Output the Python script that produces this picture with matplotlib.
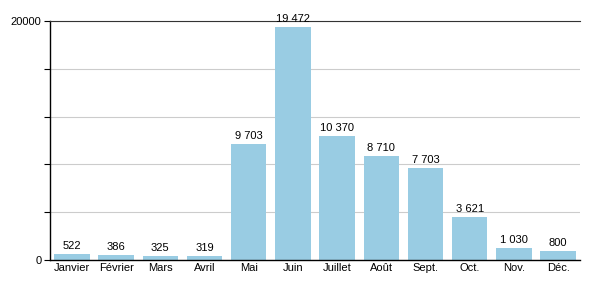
import matplotlib
matplotlib.use("Agg")
import matplotlib.pyplot as plt

plt.rcParams['font.family'] = ['Liberation Sans', 'DejaVu Sans']

# Data
months = ['Janvier', 'Février', 'Mars', 'Avril', 'Mai', 'Juin',
          'Juillet', 'Août', 'Sept.', 'Oct.', 'Nov.', 'Déc.']
values = [522, 386, 325, 319, 9703, 19472, 10370, 8710, 7703, 3621, 1030, 800]

fig, ax = plt.subplots(figsize=(6, 3), dpi=100)
fig.subplots_adjust(left=0.083, right=0.967, top=0.93, bottom=0.133)

x = range(len(months))
bars = ax.bar(x, values, width=0.8, color='#99cce3', zorder=2)

# value labels with space as thousands separator
for xi, v in zip(x, values):
    label = f"{v:,}".replace(',', ' ')
    ax.text(xi, v + 250, label, ha='center', va='bottom', fontsize=8, zorder=3)

ax.set_xlim(-0.5, len(months) - 0.5)
ax.set_ylim(0, 20000)
ax.set_xticks(list(x))
ax.set_xticklabels(months, fontsize=8)
ax.tick_params(axis='x', length=0, pad=2)

ax.set_yticks([0, 4000, 8000, 12000, 16000, 20000])
ax.set_yticklabels(['0', '', '', '', '', '20000'], fontsize=8)
ax.tick_params(axis='y', length=4, width=0.8, pad=2)

ax.yaxis.grid(True, color='#cccccc', linewidth=0.8, zorder=0)
ax.spines['right'].set_visible(False)
ax.spines['top'].set_color('#333333')
ax.spines['top'].set_linewidth(0.8)
ax.spines['left'].set_linewidth(1)
ax.spines['bottom'].set_linewidth(1)

fig.savefig('out.png', dpi=100)
